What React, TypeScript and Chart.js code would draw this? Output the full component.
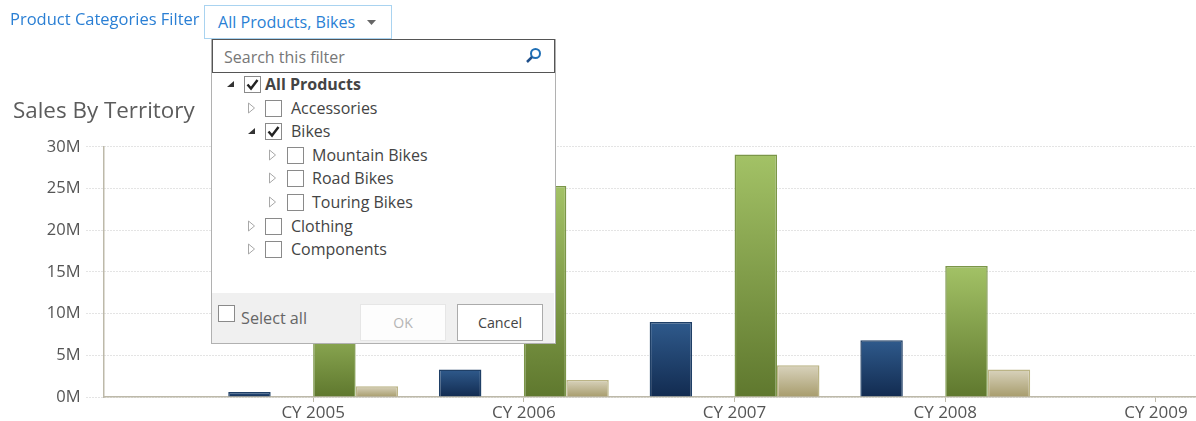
import React, { useEffect, useRef } from "react";
import { Chart, registerables } from "chart.js";

Chart.register(...registerables);

const years = [2005, 2006, 2007, 2008];
const xTicks = [2005, 2006, 2007, 2008, 2009];
const navyValues = [0.6, 3.3, 9.0, 6.8];
const greenValues = [11.0, 25.3, 29.1, 15.7];
const tanValues = [1.3, 2.05, 3.8, 3.3];
const emptyValues = [0, 0, 0, 0];
const yTicks = [0, 5, 10, 15, 20, 25, 30];
const filterTree = [
  { label: "All Products", depth: 0, checked: true, open: true, bold: true },
  { label: "Accessories", depth: 1, checked: false, open: false },
  { label: "Bikes", depth: 1, checked: true, open: true },
  { label: "Mountain Bikes", depth: 2, checked: false, open: false },
  { label: "Road Bikes", depth: 2, checked: false, open: false },
  { label: "Touring Bikes", depth: 2, checked: false, open: false },
  { label: "Clothing", depth: 1, checked: false, open: false },
  { label: "Components", depth: 1, checked: false, open: false },
];

const FONT = '"Open Sans", "Noto Sans", sans-serif';
const abs = (left: number, top: number, extra: React.CSSProperties = {}): React.CSSProperties => ({
  position: "absolute",
  left,
  top,
  whiteSpace: "nowrap",
  fontFamily: FONT,
  ...extra,
});

function gradient(top: string, bottom: string) {
  return (c: any) => {
    const v = c.raw && typeof c.raw === "object" ? c.raw.y : c.raw;
    const { y } = c.chart.scales;
    if (!y || v == null) return bottom;
    const y0 = y.getPixelForValue(v);
    const y1 = y.getPixelForValue(0);
    if (!Number.isFinite(y0) || !Number.isFinite(y1)) return bottom;
    const g = c.chart.ctx.createLinearGradient(0, y0, 0, y1);
    g.addColorStop(0, top);
    g.addColorStop(1, bottom);
    return g;
  };
}

function series(values: number[]) {
  return values.map((v, i) => ({ x: years[i], y: v }));
}

function Check({ x, y, checked }: { x: number; y: number; checked: boolean }) {
  return (
    <svg style={{ position: "absolute", left: x, top: y }} width={18} height={18}>
      <rect x={0.5} y={0.5} width={16} height={16} fill="#fff" stroke="#8a8a8a" />
      {checked && <path d="M3.5 8.5 L7 12.5 L13.5 4" fill="none" stroke="#222" strokeWidth={2.4} />}
    </svg>
  );
}

function Arrow({ x, y, open }: { x: number; y: number; open: boolean }) {
  return (
    <svg style={{ position: "absolute", left: x, top: y }} width={10} height={12}>
      {open ? <path d="M1 9 L8 9 L8 3 Z" fill="#333" /> : <path d="M1.5 1 L7.5 6 L1.5 11 Z" fill="#fff" stroke="#a8a8a8" />}
    </svg>
  );
}

export default function App() {
  const ref = useRef<HTMLCanvasElement>(null);
  useEffect(() => {
    const chart = new Chart(ref.current!, {
      type: "bar",
      data: {
        datasets: [
          { label: "Navy", data: series(navyValues), backgroundColor: gradient("#2f5a8c", "#122b50"), borderColor: "#1f3f66", borderWidth: 1.5 },
          { label: "Empty", data: series(emptyValues), backgroundColor: "transparent", borderWidth: 0 },
          { label: "Green", data: series(greenValues), backgroundColor: gradient("#a3c266", "#5f782e"), borderColor: "#7b9648", borderWidth: 1.5 },
          { label: "Tan", data: series(tanValues), backgroundColor: gradient("#d9d3bd", "#a79c6c"), borderColor: "#bbb486", borderWidth: 1.5 },
        ] as any,
      },
      options: {
        animation: false,
        responsive: false,
        datasets: { bar: { categoryPercentage: 0.806, barPercentage: 1 } },
        layout: { padding: { left: 13, right: 0, top: 0, bottom: 0 } },
        plugins: {
          legend: { display: false },
          tooltip: { enabled: false },
          title: {
            display: true,
            text: "Sales By Territory",
            align: "start",
            color: "#5c5c5c",
            font: { family: FONT, size: 22.4, weight: "normal" as any },
            padding: { top: 98, bottom: 22 },
          },
        },
        scales: {
          x: {
            type: "linear",
            min: 2004.005,
            max: 2009.19,
            offset: false,
            afterFit: (s: any) => { s.height = 24; },
            afterBuildTicks: (s: any) => { s.ticks = xTicks.map((value) => ({ value })); },
            grid: { offset: false, drawOnChartArea: false, drawTicks: true, tickLength: 5, tickColor: "#bdb9a9", color: "#bdb9a9" },
            border: { color: "#bdb9a9", width: 1.5 },
            ticks: {
              color: "#555",
              padding: 1,
              autoSkip: false,
              maxRotation: 0,
              font: { family: FONT, size: 17 },
              callback: (v: any) => "CY " + v,
            },
          } as any,
          y: {
            min: 0,
            max: 30,
            afterFit: (s: any) => { s.width = 90.5; },
            afterBuildTicks: (s: any) => { s.ticks = yTicks.map((value) => ({ value })); },
            grid: { color: "#c8c8c8", tickBorderDash: [1, 2], tickColor: "#c8c8c8", tickLength: 17 } as any,
            border: { color: "#bdb9a9", width: 1.5, dash: [1, 2] },
            ticks: {
              color: "#555",
              padding: 6,
              font: { family: FONT, size: 16.5 },
              callback: (v: any) => v + "M",
            },
          },
        },
      },
    });
    return () => chart.destroy();
  }, []);

  const rowCenters = [84, 108, 131, 155, 178, 202, 226, 249];
  const checkX = [244, 265, 287];
  const arrowX = [226, 247, 268];
  const textX = [265, 291, 312];
  return (
    <div style={{ position: "fixed", left: 0, top: 0, width: 1196, height: 421, background: "#fff", overflow: "hidden" }}>
      <canvas ref={ref} width={1196} height={421} style={{ position: "absolute", left: 0, top: 0, display: "block" }} />
      <div style={abs(10, 7, { fontSize: 16.5, color: "#2a7fd4" })}>Product Categories Filter</div>
      <div style={{ position: "absolute", left: 204, top: 5, width: 186, height: 32, border: "1px solid #a9d3f0", background: "#fff" }} />
      <div style={abs(218, 11, { fontSize: 16.1, color: "#2a7fd4" })}>All Products, Bikes</div>
      <svg style={{ position: "absolute", left: 367, top: 20 }} width={10} height={6}>
        <path d="M0 0 L9 0 L4.5 5 Z" fill="#666" />
      </svg>

      <div style={{ position: "absolute", left: 211, top: 39, width: 343, height: 303, border: "1px solid #b1b1b1", background: "#fff" }} />
      <div style={{ position: "absolute", left: 212, top: 293, width: 342, height: 50, background: "#f0f0f0" }} />
      <div style={{ position: "absolute", left: 212, top: 39, width: 341, height: 32, border: "1px solid #555", background: "#fff" }} />
      <div style={abs(224, 46, { fontSize: 16, color: "#777" })}>Search this filter</div>
      <svg style={{ position: "absolute", left: 525, top: 47 }} width={18} height={18}>
        <circle cx={10.5} cy={6.5} r={4.5} fill="none" stroke="#1f6fb5" strokeWidth={2} />
        <path d="M7 10 L2 15" stroke="#1f4f8a" strokeWidth={2.5} />
      </svg>

      {filterTree.map((n, i) => {
        const c = rowCenters[i];
        return (
          <React.Fragment key={n.label}>
            <Arrow x={arrowX[n.depth]} y={c - 6} open={n.open} />
            <Check x={checkX[n.depth]} y={c - 8} checked={n.checked} />
            <div style={abs(textX[n.depth], c - 10, { fontSize: 16, lineHeight: "20px", color: "#444", fontWeight: n.bold ? 700 : 400 })}>{n.label}</div>
          </React.Fragment>
        );
      })}

      <Check x={218} y={305} checked={false} />
      <div style={abs(241, 307, { fontSize: 16.2, color: "#666" })}>Select all</div>
      <div style={abs(360, 304, { width: 84, height: 35, border: "1px solid #e6e6e6", background: "#fdfdfd", color: "#b5b5b5", fontSize: 14, textAlign: "center", lineHeight: "36px" })}>OK</div>
      <div style={abs(457, 304, { width: 84, height: 35, border: "1px solid #ababab", background: "#fff", color: "#444", fontSize: 14.3, textAlign: "center", lineHeight: "36px" })}>Cancel</div>
    </div>
  );
}
